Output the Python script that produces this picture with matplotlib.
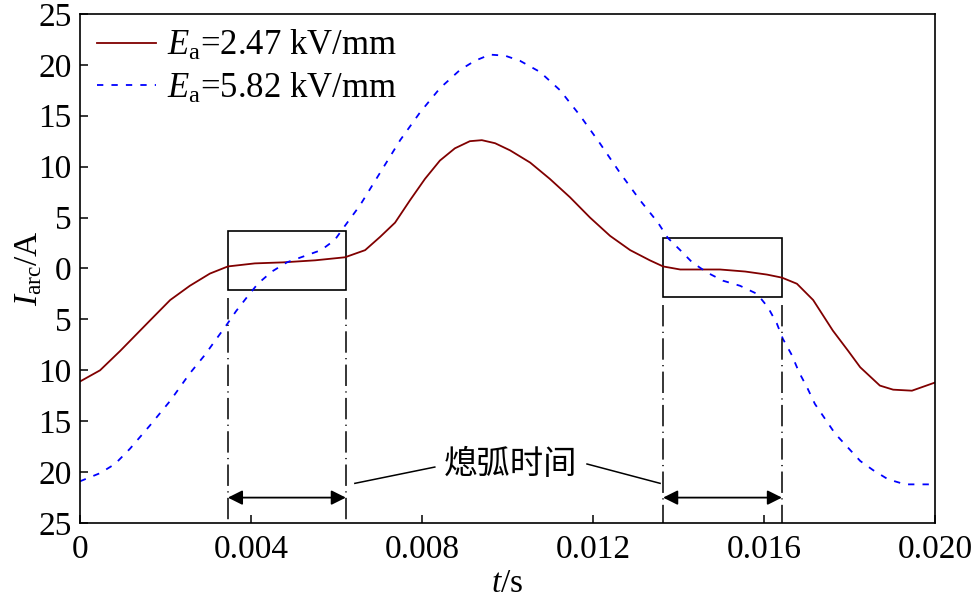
import matplotlib.pyplot as plt
import numpy as np
from matplotlib.ticker import FuncFormatter

plt.rcParams['font.family'] = ['Liberation Serif', 'Noto Sans CJK SC']
plt.rcParams['mathtext.fontset'] = 'custom'
plt.rcParams['mathtext.rm'] = 'Liberation Serif'
plt.rcParams['mathtext.it'] = 'Liberation Serif:italic'

# time in ms, current in A
t_low = [0, 0.47, 0.94, 1.64, 2.11, 2.57, 3.04, 3.46, 4.09, 4.75, 5.50, 6.20,
         6.67, 7.02, 7.37, 7.72, 8.07, 8.42, 8.77, 9.12, 9.40, 9.71, 10.06,
         10.53, 10.99, 11.46, 11.93, 12.40, 12.87, 13.33, 13.64, 14.04, 14.97,
         15.56, 16.07, 16.42, 16.77, 17.15, 17.61, 17.97, 18.25, 18.71, 19.02,
         19.46, 20.0]
i_low = [-11.1, -10.0, -8.1, -5.1, -3.1, -1.7, -0.5, 0.2, 0.5, 0.6, 0.8, 1.1,
         1.8, 3.1, 4.5, 6.7, 8.8, 10.6, 11.8, 12.5, 12.6, 12.3, 11.6,
         10.4, 8.8, 7.0, 5.0, 3.2, 1.8, 0.8, 0.2, -0.1, -0.1,
         -0.3, -0.6, -0.9, -1.5, -3.1, -6.1, -8.1, -9.7, -11.5, -11.9,
         -12.0, -11.2]

t_high = [0, 0.47, 0.82, 1.17, 1.64, 2.11, 2.57, 2.92, 3.16, 3.42, 3.65, 3.91,
          4.16, 4.49, 4.84, 5.24, 5.64, 5.96, 6.20, 6.55, 7.02, 7.49, 7.95,
          8.42, 8.89, 9.24, 9.59, 9.94, 10.29, 10.76, 11.23, 11.70, 12.16,
          12.63, 13.10, 13.52, 13.75, 14.04, 14.32, 14.67, 15.04, 15.44, 15.84,
          16.09, 16.30, 16.44, 16.65, 16.82, 17.01, 17.19, 17.66, 18.25, 18.55,
          18.90, 19.30, 20.0]
i_high = [-20.9, -20.1, -19.2, -17.7, -15.4, -13.0, -10.3, -8.5, -7.1, -5.6, -4.2, -2.8,
          -1.5, -0.3, 0.6, 1.2, 1.8, 2.8, 4.2, 6.2, 9.4, 12.6, 15.3,
          17.7, 19.5, 20.4, 21.0, 20.9, 20.4, 19.3, 17.5, 15.0, 12.3,
          9.4, 6.7, 4.5, 3.0, 1.8, 0.6, -0.4, -1.2, -1.7, -2.5,
          -3.8, -5.4, -6.9, -8.5, -10.2, -11.7, -13.3, -16.2, -18.9, -19.8,
          -20.7, -21.2, -21.2]

labels = ['$E_{\\rm a}$=2.47 kV/mm', '$E_{\\rm a}$=5.82 kV/mm']

# arc extinction windows (ms) and box limits (A)
windows = [(3.46, 6.22), (13.64, 16.42)]
box_i = [(-2.1, 3.7), (-2.8, 3.0)]

fig = plt.figure(figsize=(9.75, 6.04), dpi=100)
ax = fig.add_axes([0.082, 0.134, 0.877, 0.843])

t1 = np.array(t_low) * 1e-3
t2 = np.array(t_high) * 1e-3
ax.plot(t1, i_low, color='#800000', lw=1.3, label=labels[0])
ax.plot(t2, i_high, color='#0000ff', lw=1.3, linestyle=(0, (3.5, 4.5)), label=labels[1])

for (a, b), (lo, hi) in zip(windows, box_i):
    a, b = a * 1e-3, b * 1e-3
    ax.add_patch(plt.Rectangle((a, lo), b - a, hi - lo, fill=False, ec='k', lw=1.2))
    for x in (a, b):
        ax.plot([x, x], [lo - 0.8, -25], color='k', lw=1.1,
                linestyle=(0, (14, 3.5, 0.8, 3.5)))
    ax.annotate('', xy=(a, -22.5), xytext=(b, -22.5),
                arrowprops=dict(arrowstyle='<|-|>', color='k', lw=1.3,
                                mutation_scale=22, shrinkA=0, shrinkB=0))

ax.text(10.06e-3, -19.2, '熄弧时间', ha='center', va='center', fontsize=24,
        family=['Noto Sans CJK SC'])
ax.plot([6.43e-3, 8.30e-3], [-21.1, -19.5], color='k', lw=1.1)
ax.plot([11.86e-3, 13.57e-3], [-19.2, -21.1], color='k', lw=1.1)

ax.set_xlim(0, 0.02)
ax.set_ylim(-25, 25)
ax.set_xticks([0, 0.004, 0.008, 0.012, 0.016, 0.020])
ax.set_xticklabels(['0', '0.004', '0.008', '0.012', '0.016', '0.020'])
ax.set_yticks(np.arange(-25, 26, 5))
ax.yaxis.set_major_formatter(FuncFormatter(lambda v, p: '%d' % abs(v)))
ax.tick_params(direction='in', length=6, width=1.1, labelsize=24, pad=6)
ax.tick_params(axis='x', pad=8)
for s in ax.spines.values():
    s.set_linewidth(1.2)

ax.set_xlabel('$t$/s', fontsize=24, labelpad=3)
ax.set_ylabel('$I_{\\rm arc}$/A', fontsize=24, labelpad=-4)

ax.legend(loc='upper left', frameon=False, fontsize=25, handlelength=1.7,
          handletextpad=0.3, borderaxespad=0.1, labelspacing=0.25,
          bbox_to_anchor=(0.0, 1.005))

fig.savefig('out.png', dpi=100)
